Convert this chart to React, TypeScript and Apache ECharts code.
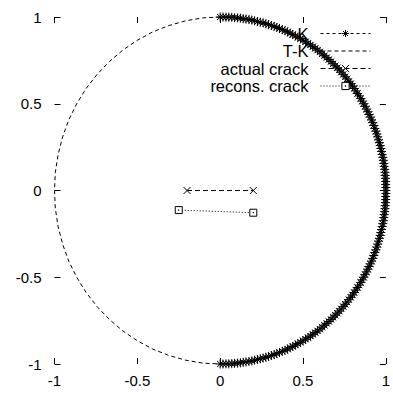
import React, { useEffect, useRef } from 'react';
import * as echarts from 'echarts';

// K: right half of the unit circle (dense asterisk markers, 1 degree apart)
const kPoints: number[][] = [
  [0.000, -1.000], [0.017, -1.000], [0.035, -0.999], [0.052, -0.999], [0.070, -0.998],
  [0.087, -0.996], [0.105, -0.995], [0.122, -0.993], [0.139, -0.990], [0.156, -0.988],
  [0.174, -0.985], [0.191, -0.982], [0.208, -0.978], [0.225, -0.974], [0.242, -0.970],
  [0.259, -0.966], [0.276, -0.961], [0.292, -0.956], [0.309, -0.951], [0.326, -0.946],
  [0.342, -0.940], [0.358, -0.934], [0.375, -0.927], [0.391, -0.921], [0.407, -0.914],
  [0.423, -0.906], [0.438, -0.899], [0.454, -0.891], [0.469, -0.883], [0.485, -0.875],
  [0.500, -0.866], [0.515, -0.857], [0.530, -0.848], [0.545, -0.839], [0.559, -0.829],
  [0.574, -0.819], [0.588, -0.809], [0.602, -0.799], [0.616, -0.788], [0.629, -0.777],
  [0.643, -0.766], [0.656, -0.755], [0.669, -0.743], [0.682, -0.731], [0.695, -0.719],
  [0.707, -0.707], [0.719, -0.695], [0.731, -0.682], [0.743, -0.669], [0.755, -0.656],
  [0.766, -0.643], [0.777, -0.629], [0.788, -0.616], [0.799, -0.602], [0.809, -0.588],
  [0.819, -0.574], [0.829, -0.559], [0.839, -0.545], [0.848, -0.530], [0.857, -0.515],
  [0.866, -0.500], [0.875, -0.485], [0.883, -0.469], [0.891, -0.454], [0.899, -0.438],
  [0.906, -0.423], [0.914, -0.407], [0.921, -0.391], [0.927, -0.375], [0.934, -0.358],
  [0.940, -0.342], [0.946, -0.326], [0.951, -0.309], [0.956, -0.292], [0.961, -0.276],
  [0.966, -0.259], [0.970, -0.242], [0.974, -0.225], [0.978, -0.208], [0.982, -0.191],
  [0.985, -0.174], [0.988, -0.156], [0.990, -0.139], [0.993, -0.122], [0.995, -0.105],
  [0.996, -0.087], [0.998, -0.070], [0.999, -0.052], [0.999, -0.035], [1.000, -0.017],
  [1.000, 0.000],
  [1.000, 0.017], [0.999, 0.035], [0.999, 0.052], [0.998, 0.070], [0.996, 0.087],
  [0.995, 0.105], [0.993, 0.122], [0.990, 0.139], [0.988, 0.156], [0.985, 0.174],
  [0.982, 0.191], [0.978, 0.208], [0.974, 0.225], [0.970, 0.242], [0.966, 0.259],
  [0.961, 0.276], [0.956, 0.292], [0.951, 0.309], [0.946, 0.326], [0.940, 0.342],
  [0.934, 0.358], [0.927, 0.375], [0.921, 0.391], [0.914, 0.407], [0.906, 0.423],
  [0.899, 0.438], [0.891, 0.454], [0.883, 0.469], [0.875, 0.485], [0.866, 0.500],
  [0.857, 0.515], [0.848, 0.530], [0.839, 0.545], [0.829, 0.559], [0.819, 0.574],
  [0.809, 0.588], [0.799, 0.602], [0.788, 0.616], [0.777, 0.629], [0.766, 0.643],
  [0.755, 0.656], [0.743, 0.669], [0.731, 0.682], [0.719, 0.695], [0.707, 0.707],
  [0.695, 0.719], [0.682, 0.731], [0.669, 0.743], [0.656, 0.755], [0.643, 0.766],
  [0.629, 0.777], [0.616, 0.788], [0.602, 0.799], [0.588, 0.809], [0.574, 0.819],
  [0.559, 0.829], [0.545, 0.839], [0.530, 0.848], [0.515, 0.857], [0.500, 0.866],
  [0.485, 0.875], [0.469, 0.883], [0.454, 0.891], [0.438, 0.899], [0.423, 0.906],
  [0.407, 0.914], [0.391, 0.921], [0.375, 0.927], [0.358, 0.934], [0.342, 0.940],
  [0.326, 0.946], [0.309, 0.951], [0.292, 0.956], [0.276, 0.961], [0.259, 0.966],
  [0.242, 0.970], [0.225, 0.974], [0.208, 0.978], [0.191, 0.982], [0.174, 0.985],
  [0.156, 0.988], [0.139, 0.990], [0.122, 0.993], [0.105, 0.995], [0.087, 0.996],
  [0.070, 0.998], [0.052, 0.999], [0.035, 0.999], [0.017, 1.000], [0.000, 1.000],
];

// T-K: dashed left half of the unit circle
const tkPoints: number[][] = [
  [0.000, 1.000], [-0.105, 0.995], [-0.208, 0.978], [-0.309, 0.951], [-0.407, 0.914],
  [-0.500, 0.866], [-0.588, 0.809], [-0.669, 0.743], [-0.743, 0.669], [-0.809, 0.588],
  [-0.866, 0.500], [-0.914, 0.407], [-0.951, 0.309], [-0.978, 0.208], [-0.995, 0.105],
  [-1.000, 0.000],
  [-0.995, -0.105], [-0.978, -0.208], [-0.951, -0.309], [-0.914, -0.407], [-0.866, -0.500],
  [-0.809, -0.588], [-0.743, -0.669], [-0.669, -0.743], [-0.588, -0.809], [-0.500, -0.866],
  [-0.407, -0.914], [-0.309, -0.951], [-0.208, -0.978], [-0.105, -0.995], [0.000, -1.000],
];

const actualCrack: number[][] = [[-0.2, 0], [0.2, 0]];
const reconsCrack: number[][] = [[-0.25, -0.113], [0.2, -0.128]];

const seriesNames = ['K', 'T-K', 'actual crack', 'recons. crack'];
const axisMin = -1;
const axisMax = 1;
const axisStep = 0.5;

const FONT = '"Liberation Sans", Arial, Helvetica, sans-serif';

const asterisk = 'path://M0,5L10,5M5,0L5,10M1.5,1.5L8.5,8.5M8.5,1.5L1.5,8.5';
const cross = 'path://M0,0L10,10M10,0L0,10';
const dotSquare = 'path://M0,0L10,0L10,10L0,10ZM4.6,4.6L5.4,4.6L5.4,5.4L4.6,5.4Z';

export default function App() {
  const ref = useRef<HTMLDivElement>(null);
  useEffect(() => {
    if (!ref.current) return;
    const chart = echarts.init(ref.current, null, { renderer: 'svg' });
    const axisCommon = {
      type: 'value' as const,
      min: axisMin,
      max: axisMax,
      interval: axisStep,
      axisLine: { show: false, onZero: false },
      axisTick: { show: true, inside: true, length: 6, lineStyle: { color: '#000', width: 1 } },
      splitLine: { show: false },
    };
    const labelStyle = { color: '#000', fontSize: 15, fontFamily: FONT };
    chart.setOption({
      animation: false,
      backgroundColor: '#fff',
      grid: { left: 54.5, right: 1.5, top: 17, bottom: 30, containLabel: false },
      xAxis: [
        { ...axisCommon, position: 'bottom', axisLabel: { ...labelStyle, margin: 9 } },
        { ...axisCommon, position: 'top', axisLabel: { show: false } },
      ],
      yAxis: [
        { ...axisCommon, position: 'left', axisLabel: { ...labelStyle, margin: 13 } },
        { ...axisCommon, position: 'right', axisLabel: { show: false } },
      ],
      legend: {
        orient: 'vertical',
        right: 17,
        top: 20,
        align: 'right',
        itemWidth: 50,
        itemHeight: 9,
        itemGap: 0.5,
        selectedMode: false,
        itemStyle: { borderWidth: 1 },
        lineStyle: { width: 1 },
        textStyle: { color: '#000', fontSize: 16.5, fontFamily: FONT, padding: [0, 7, 0, 0] },
        data: [
          { name: seriesNames[0] },
          { name: seriesNames[1], itemStyle: { color: 'transparent', borderColor: 'transparent' } },
          { name: seriesNames[2] },
          { name: seriesNames[3] },
        ],
      },
      series: [
        {
          name: seriesNames[1],
          type: 'line',
          data: tkPoints,
          symbol: 'circle',
          symbolSize: 0,
          showSymbol: false,
          lineStyle: { color: '#000', width: 1, type: [4, 3] },
          itemStyle: { color: '#000' },
          z: 1,
        },
        {
          name: seriesNames[0],
          type: 'line',
          data: kPoints,
          symbol: asterisk,
          symbolSize: 9,
          showAllSymbol: true,
          lineStyle: { color: '#000', width: 1, type: [3, 3] },
          itemStyle: { color: '#000', borderColor: '#000', borderWidth: 1 },
          z: 2,
        },
        {
          name: seriesNames[2],
          type: 'line',
          data: actualCrack,
          symbol: cross,
          symbolSize: 7,
          lineStyle: { color: '#000', width: 1, type: [5, 3] },
          itemStyle: { color: '#000', borderColor: '#000', borderWidth: 1 },
          z: 3,
        },
        {
          name: seriesNames[3],
          type: 'line',
          data: reconsCrack,
          symbol: dotSquare,
          symbolSize: 7,
          lineStyle: { color: '#000', width: 1, type: [1, 2] },
          itemStyle: { color: '#fff', borderColor: '#000', borderWidth: 1 },
          z: 4,
        },
      ],
    });
    return () => chart.dispose();
  }, []);
  return (
    <div
      ref={ref}
      style={{ position: 'fixed', left: 0, top: 0, width: 393, height: 394, background: '#fff' }}
    />
  );
}
